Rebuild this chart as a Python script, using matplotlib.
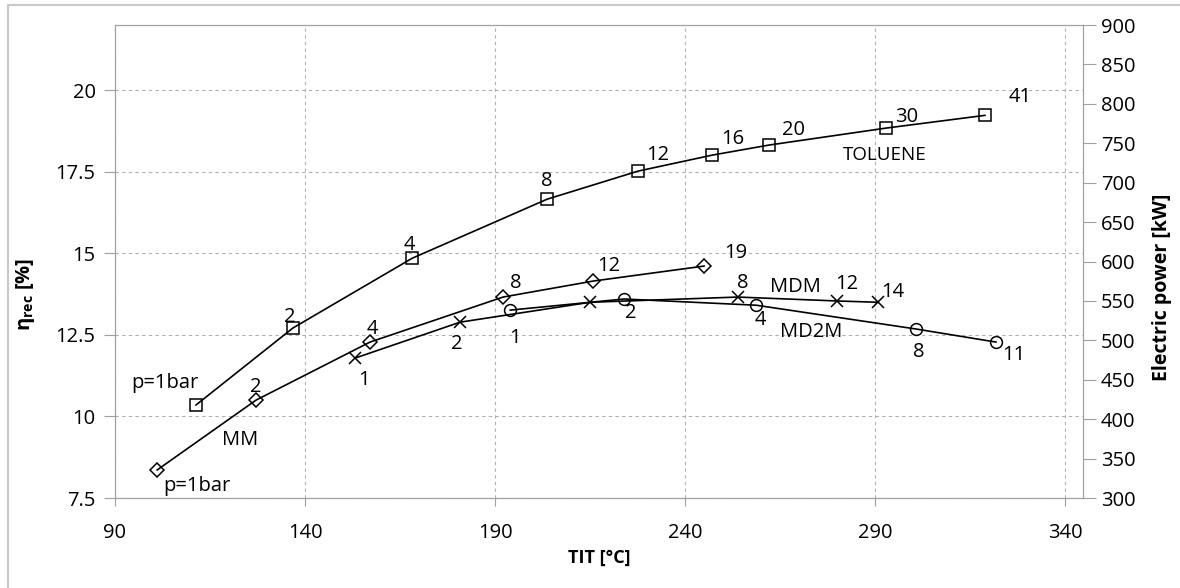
import numpy as np
import matplotlib.pyplot as plt
from matplotlib.patches import Rectangle

plt.rcParams['font.family'] = ['Open Sans', 'DejaVu Sans']

# TOLUENE
tol_x = [111.3, 136.8, 168.2, 203.7, 227.6, 247.1, 262.1, 292.9, 318.9]
tol_y = [10.35, 12.71, 14.85, 16.66, 17.52, 18.01, 18.32, 18.84, 19.23]
tol_lab = ['p=1bar', '2', '4', '8', '12', '16', '20', '30', '41']
tol_off = [(-31, 22), (-3, 11), (-3, 13), (0, 18), (20, 16), (21, 16), (24, 15), (20, 11), (35, 18)]

# MM
mm_x = [101.1, 127.1, 157.1, 192.1, 215.8, 245.0]
mm_y = [8.36, 10.50, 12.28, 13.66, 14.15, 14.61]
mm_lab = ['p=1bar', '2', '4', '8', '12', '19']
mm_off = [(40, -16), (0, 13), (2, 13), (13, 14), (16, 15), (32, 13)]

# MDM
mdm_x = [153.2, 180.8, 215.0, 253.9, 280.0, 290.8]
mdm_y = [11.79, 12.89, 13.50, 13.66, 13.54, 13.50]
mdm_lab = ['1', '2', '', '8', '12', '14']
mdm_off = [(9, -22), (-3, -22), (0, 0), (5, 14), (10, 17), (15, 10)]

# MD2M
md2m_x = [194.0, 223.9, 258.7, 300.8, 321.8]
md2m_y = [13.26, 13.60, 13.41, 12.68, 12.28]
md2m_lab = ['1', '2', '4', '8', '11']
md2m_off = [(5, -28), (7, -14), (4, -15), (3, -23), (18, -13)]

fs = 14.5
fig = plt.figure(figsize=(11.8, 5.88), dpi=100)
ax = fig.add_axes([115/1180, 90/588, (1083-115)/1180, (498-25)/588])

ax.plot(tol_x, tol_y, color='black', lw=1.2, marker='s', ms=8, mfc='none', mec='black', mew=1.1)
ax.plot(mm_x, mm_y, color='black', lw=1.2, marker='D', ms=7, mfc='none', mec='black', mew=1.1)
ax.plot(mdm_x, mdm_y, color='black', lw=1.2, marker='x', ms=8, mec='black', mew=1.1)
ax.plot(md2m_x, md2m_y, color='black', lw=1.2, marker='o', ms=8.5, mfc='none', mec='black', mew=1.1)

for xs, ys, labs, offs in [(tol_x, tol_y, tol_lab, tol_off), (mm_x, mm_y, mm_lab, mm_off),
                           (mdm_x, mdm_y, mdm_lab, mdm_off), (md2m_x, md2m_y, md2m_lab, md2m_off)]:
    for x, y, t, o in zip(xs, ys, labs, offs):
        if t:
            ax.annotate(t, (x, y), xytext=o, textcoords='offset pixels',
                        ha='center', va='center', fontsize=fs)

# curve names
ax.annotate('TOLUENE', (tol_x[7], tol_y[7]), xytext=(-1, -27), textcoords='offset pixels',
            ha='center', va='center', fontsize=fs - 1)
ax.annotate('MM', (mm_x[1], mm_y[1]), xytext=(-16, -40), textcoords='offset pixels',
            ha='center', va='center', fontsize=fs)
ax.annotate('MDM', (mdm_x[3], mdm_y[3]), xytext=(58, 10), textcoords='offset pixels',
            ha='center', va='center', fontsize=fs)
ax.annotate('MD2M', (md2m_x[2], md2m_y[2]), xytext=(55, -27), textcoords='offset pixels',
            ha='center', va='center', fontsize=fs)

ax.set_xlim(90, 344.7)
ax.set_ylim(7.5, 22)
ax.set_xticks([90, 140, 190, 240, 290, 340])
ax.set_yticks([7.5, 10, 12.5, 15, 17.5, 20])
ax.set_yticklabels(['7.5', '10', '12.5', '15', '17.5', '20'])
ax.grid(True, color='#b0b0b0', ls=(0, (3, 3)), lw=0.8)
ax.set_axisbelow(True)
for s in ax.spines.values():
    s.set_color('#a0a0a0')
ax.tick_params(axis='y', length=8, color='#a0a0a0', labelsize=fs, pad=6)
ax.tick_params(axis='x', length=6, color='#a0a0a0', labelsize=fs, pad=12)
ax.set_xlabel('TIT [°C]', fontsize=13, fontweight='bold', labelpad=4)
ax.set_ylabel(r'η$_\mathregular{rec}$ [%]', fontsize=14.5, fontweight='bold')
ax.yaxis.set_label_coords(-0.081, 0.43)

ax2 = ax.twinx()
ax2.set_ylim(300, 900)
ax2.set_yticks(np.arange(300, 901, 50))
for s in ax2.spines.values():
    s.set_color('#a0a0a0')
ax2.tick_params(axis='y', length=9, color='#a0a0a0', labelsize=fs, pad=4)
ax2.set_ylabel('Electric power [kW]', fontsize=14, fontweight='bold')
ax2.yaxis.set_label_coords(1.071, 0.446)

fig.patches.append(Rectangle((8/1180, -0.05), 1.2, 1.05 - 5/588, transform=fig.transFigure,
                             fill=False, ec='#c8c8c8', lw=1.5))

fig.savefig('out.png', dpi=100)
